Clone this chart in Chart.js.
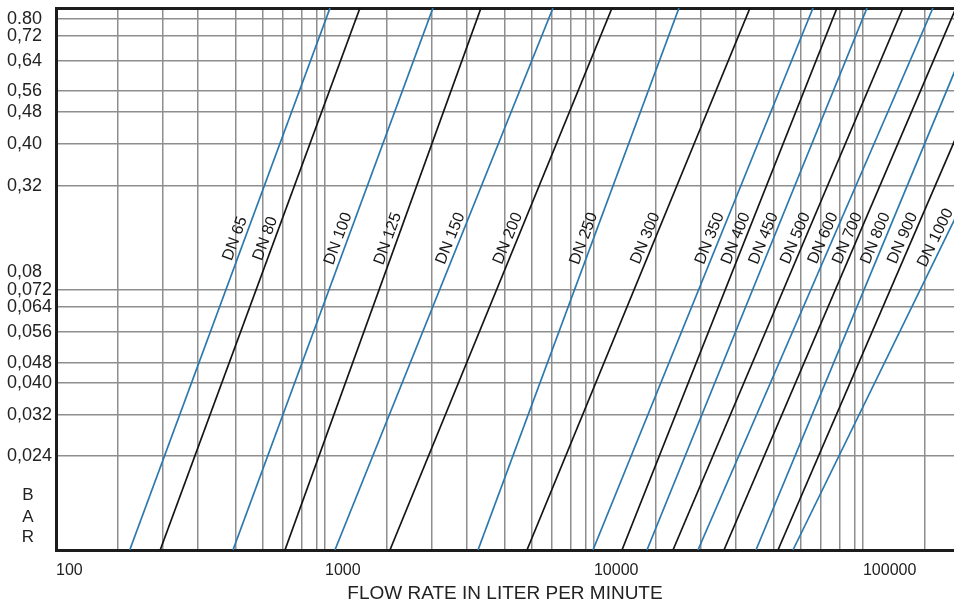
<!DOCTYPE html>
<html>
<head>
<meta charset="utf-8">
<script src="https://cdn.jsdelivr.net/npm/chart.js@4.4.0/dist/chart.umd.min.js"></script>
<style>
  html, body { margin: 0; padding: 0; background: #ffffff; }
  #wrap { width: 954px; height: 606px; position: relative; }
</style>
</head>
<body>
<div id="wrap"><canvas id="chart"></canvas></div>
<script>
// ---------------- DATA ----------------
const dnLabels = ['DN 65','DN 80','DN 100','DN 125','DN 150','DN 200','DN 250','DN 300','DN 350',
                  'DN 400','DN 450','DN 500','DN 600','DN 700','DN 800','DN 900','DN 1000'];
// flow (l/min) where each line meets the bottom edge (lowest pressure) and the top edge (highest pressure)
const flowAtMinPressure = [188, 244, 455, 710, 1089, 1744, 3706, 5636, 9916,
                           12710, 15740, 19670, 24360, 30430, 40020, 48310, 54930];
const flowAtMaxPressure = [1044, 1349, 2520, 3802, 7040, 11670, 20700, 38020, 65200,
                           80060, 103500, 140800, 182000, 221700, 274600, 357900, 530900];
const pressureRange = [0.0125, 0.85];           // pressure (bar) at bottom / top edge of the chart
const pressureTicks = [0.024, 0.032, 0.040, 0.048, 0.056, 0.064, 0.072, 0.08,
                       0.32, 0.40, 0.48, 0.56, 0.64, 0.72, 0.80];
const pressureTickLabels = ['0,024','0,032','0,040','0,048','0,056','0,064','0,072','0,08',
                            '0,32','0,40','0,48','0,56','0,64','0,72','0.80'];
const flowRange = [100, 218000];
const flowGridValues = [100, 169, 250, 337, 467, 588, 698, 821, 934,
                        1000, 1690, 2500, 3370, 4670, 5880, 6980, 8210, 9340,
                        10000, 16900, 25000, 33700, 46700, 58800, 69800, 82100, 93400,
                        100000, 169000];
const flowTickLabels = [100, 1000, 10000, 100000];
const labelPressure = 0.13;   // where the DN captions sit along their lines

// ---------------- STYLE ----------------
const FONT = '"Liberation Sans", Arial, Helvetica, sans-serif';
const GRID = '#8e8e8e';
const AXIS = '#1c1c1c';
const TEXT = '#222222';
const BLUE = '#2a78ae';
const BLACK = '#141414';

// ---------------- BROKEN PRESSURE AXIS ----------------
// The printed pressure axis is not uniform: each printed value sits at its own height.
// [pressure, fraction of plot height measured from the bottom]
const pressureAxisLayout = [
  [pressureRange[0], 0], [0.024, 0.173], [0.032, 0.249], [0.040, 0.308], [0.048, 0.345],
  [0.056, 0.402], [0.064, 0.448], [0.072, 0.480], [0.08, 0.513], [0.32, 0.672],
  [0.40, 0.749], [0.48, 0.808], [0.56, 0.847], [0.64, 0.902], [0.72, 0.948],
  [0.80, 0.980], [pressureRange[1], 1]
];
function pressureToFraction(v) {
  const a = pressureAxisLayout;
  if (v <= a[0][0]) return a[0][1];
  for (let i = 1; i < a.length; i++) {
    if (v <= a[i][0]) {
      const t = (Math.log(v) - Math.log(a[i-1][0])) / (Math.log(a[i][0]) - Math.log(a[i-1][0]));
      return a[i-1][1] + t * (a[i][1] - a[i-1][1]);
    }
  }
  return a[a.length-1][1];
}
function fractionToPressure(f) {
  const a = pressureAxisLayout;
  if (f <= a[0][1]) return a[0][0];
  for (let i = 1; i < a.length; i++) {
    if (f <= a[i][1]) {
      const t = (f - a[i-1][1]) / (a[i][1] - a[i-1][1]);
      return Math.exp(Math.log(a[i-1][0]) + t * (Math.log(a[i][0]) - Math.log(a[i-1][0])));
    }
  }
  return a[a.length-1][0];
}
class BrokenPressureScale extends Chart.LinearScale {
  determineDataLimits() {
    this.min = pressureRange[0];
    this.max = pressureRange[1];
  }
  buildTicks() {
    return pressureTicks.map(v => ({ value: v }));
  }
  getPixelForValue(value) {
    if (value === null || value === undefined || isNaN(value)) return NaN;
    return this.getPixelForDecimal(pressureToFraction(value));
  }
  getValueForPixel(pixel) {
    return fractionToPressure(this.getDecimalForPixel(pixel));
  }
}
BrokenPressureScale.id = 'brokenPressure';
BrokenPressureScale.defaults = Chart.LinearScale.defaults;
Chart.register(BrokenPressureScale);

// ---------------- DATASETS ----------------
const datasets = dnLabels.map((name, i) => ({
  label: name,
  data: [
    { x: flowAtMinPressure[i], y: pressureRange[0] },
    { x: flowAtMaxPressure[i], y: pressureRange[1] }
  ],
  borderColor: i % 2 === 0 ? BLUE : BLACK,
  borderWidth: 1.7,
  pointRadius: 0,
  tension: 0,
  fill: false,
  xAxisID: 'x',
  yAxisID: 'y'
}));

// ---------------- PLUGINS ----------------
const captionPlugin = {
  id: 'captions',
  afterDatasetsDraw(chart) {
    const { ctx, chartArea } = chart;
    const yScale = chart.scales.y;
    const yPix = yScale.getPixelForValue(labelPressure);
    ctx.save();
    ctx.font = '16px ' + FONT;
    ctx.fillStyle = '#161616';
    ctx.textAlign = 'center';
    ctx.textBaseline = 'middle';
    chart.data.datasets.forEach((ds, i) => {
      const pts = chart.getDatasetMeta(i).data;
      if (pts.length < 2) return;
      const a = pts[0], b = pts[1];
      const dx = b.x - a.x, dy = b.y - a.y, len = Math.hypot(dx, dy);
      const t = (yPix - a.y) / dy;
      const px = a.x + dx * t;
      const nx = dy / len, ny = -dx / len;
      const off = 9;
      ctx.save();
      ctx.translate(px + nx * off, yPix + ny * off);
      ctx.rotate(Math.atan2(dy, dx));
      ctx.fillText(ds.label, 0, 0);
      ctx.restore();
    });
    // stacked unit letters of the pressure axis
    const top = yScale.getPixelForValue(pressureTicks[0]);
    const bot = chartArea.bottom;
    ctx.font = '17px ' + FONT;
    ctx.fillStyle = TEXT;
    [['B', 0.415], ['A', 0.649], ['R', 0.862]].forEach(([ch, f]) => {
      ctx.fillText(ch, chartArea.left - 28, top + (bot - top) * f);
    });
    ctx.restore();
  }
};

// ---------------- CHART ----------------
new Chart(document.getElementById('chart'), {
  type: 'line',
  data: { datasets },
  plugins: [captionPlugin],
  options: {
    responsive: true,
    maintainAspectRatio: false,
    animation: false,
    layout: { padding: { left: 7, right: 0, top: 0, bottom: 0 } },
    plugins: { legend: { display: false }, tooltip: { enabled: false } },
    scales: {
      x: {
        type: 'logarithmic',
        position: 'bottom',
        min: flowRange[0],
        max: flowRange[1],
        afterBuildTicks: s => { s.ticks = flowGridValues.map(v => ({ value: v })); },
        afterFit: s => { s.height = 56; s.paddingLeft = 0; s.paddingRight = 0; },
        ticks: {
          autoSkip: false, maxRotation: 0, minRotation: 0, align: 'start', padding: 11,
          color: TEXT, font: { family: FONT, size: 16 },
          callback: v => flowTickLabels.includes(v) ? String(v) : ''
        },
        grid: { color: GRID, lineWidth: 1.5, drawTicks: false },
        border: { display: true, color: AXIS, width: 3 },
        title: {
          display: true, text: 'FLOW RATE IN LITER PER MINUTE',
          color: TEXT, font: { family: FONT, size: 19 },
          padding: { top: 0, bottom: 1 }
        }
      },
      xTop: {
        type: 'logarithmic',
        position: 'top',
        min: flowRange[0],
        max: flowRange[1],
        afterFit: s => { s.height = 8; s.paddingLeft = 0; s.paddingRight = 0; },
        ticks: { display: false },
        grid: { display: false, drawTicks: false },
        border: { display: true, color: AXIS, width: 3 }
      },
      y: {
        type: 'brokenPressure',
        position: 'left',
        afterFit: s => { s.width = 49; s.paddingTop = 0; s.paddingBottom = 0; },
        ticks: {
          autoSkip: false, crossAlign: 'far', padding: 0,
          color: TEXT, font: { family: FONT, size: 18 },
          callback: (v) => {
            const i = pressureTicks.indexOf(v);
            return i >= 0 ? pressureTickLabels[i] : '';
          }
        },
        grid: {
          color: ctx => (ctx.tick && ctx.tick.value === 0.08) ? 'rgba(0,0,0,0)' : GRID,
          lineWidth: 1.5, drawTicks: false
        },
        border: { display: true, color: AXIS, width: 3 }
      }
    }
  }
});
</script>
</body>
</html>
